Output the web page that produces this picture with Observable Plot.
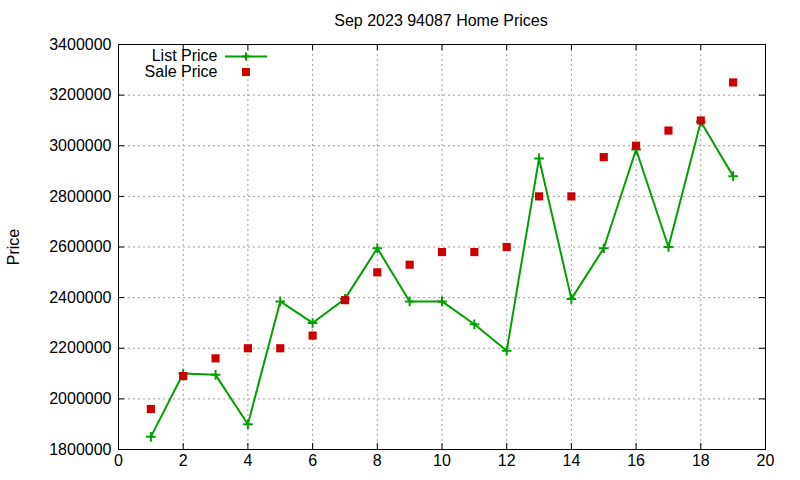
<!DOCTYPE html>
<html>
<head>
<meta charset="utf-8">
<script src="https://cdn.jsdelivr.net/npm/d3@7"></script>
<script src="https://cdn.jsdelivr.net/npm/@observablehq/plot@0.6"></script>
<style>
  html, body { margin: 0; padding: 0; background: #fff; }
  #chart { width: 800px; height: 480px; }
</style>
</head>
<body>
<div id="chart"></div>
<script>
const titleText = "Sep 2023 94087 Home Prices";
const yLabel = "Price";
const seriesNames = ["List Price", "Sale Price"];
const months = [1, 2, 3, 4, 5, 6, 7, 8, 9, 10, 11, 12, 13, 14, 15, 16, 17, 18, 19];
const listPrice = [1850000, 2100000, 2095000, 1900000, 2385000, 2300000, 2395000, 2595000, 2385000, 2385000, 2295000, 2190000, 2950000, 2395000, 2595000, 2985000, 2600000, 3095000, 2880000];
const salePrice = [1960000, 2090000, 2160000, 2200000, 2200000, 2250000, 2390000, 2500000, 2530000, 2580000, 2580000, 2600000, 2800000, 2800000, 2955000, 3000000, 3060000, 3100000, 3250000];
const xTicks = [0, 2, 4, 6, 8, 10, 12, 14, 16, 18, 20];
const yTicks = [1800000, 2000000, 2200000, 2400000, 2600000, 2800000, 3000000, 3200000, 3400000];

const listData = months.map((m, i) => ({x: m, y: listPrice[i]}));
const saleData = months.map((m, i) => ({x: m, y: salePrice[i]}));

const W = 800, H = 480;
const mL = 118, mR = 35, mT = 44, mB = 31;
const innerW = W - mL - mR, innerH = H - mT - mB;
const tk = 6;
const green = "#00a000", red = "#cc0000";

const svg = Plot.plot({
  width: W,
  height: H,
  marginLeft: mL,
  marginRight: mR,
  marginTop: mT,
  marginBottom: mB,
  style: {fontFamily: "'Liberation Sans', Arial, sans-serif", fontSize: "16px", color: "#000", background: "#fff"},
  x: {domain: [0, 20], label: null},
  y: {domain: [1800000, 3400000]},
  marks: [
    Plot.gridX(xTicks, {stroke: "#a0a0a0", strokeOpacity: 1, strokeDasharray: "2,3"}),
    Plot.gridY(yTicks, {stroke: "#a0a0a0", strokeOpacity: 1, strokeDasharray: "2,3"}),
    Plot.tickX(xTicks, {x: d => d, stroke: "#000", insetTop: innerH - tk}),
    Plot.tickX(xTicks, {x: d => d, stroke: "#000", insetBottom: innerH - tk}),
    Plot.tickY(yTicks, {y: d => d, stroke: "#000", insetRight: innerW - tk}),
    Plot.tickY(yTicks, {y: d => d, stroke: "#000", insetLeft: innerW - tk}),
    Plot.axisX(xTicks, {tickSize: 0, tickPadding: 5, tickFormat: d3.format("d"), fontSize: 16, label: null}),
    Plot.axisY(yTicks, {tickSize: 0, tickPadding: 7, tickFormat: d3.format("d"), fontSize: 16,
      label: yLabel, labelAnchor: "center", labelArrow: "none", labelOffset: 111}),
    Plot.frame({stroke: "#000", strokeWidth: 1}),
    Plot.line(listData, {x: "x", y: "y", stroke: green, strokeWidth: 2}),
    Plot.dot(listData, {x: "x", y: "y", symbol: "plus", stroke: green, strokeWidth: 2, r: 3.2}),
    Plot.dot(saleData, {x: "x", y: "y", symbol: "square", fill: red, stroke: "none", r: 4.6}),
    Plot.text([titleText], {frameAnchor: "top", dy: -30, fontSize: 16, fill: "#000", dx: -1}),
    Plot.text([seriesNames[0]], {frameAnchor: "top-left", dx: 99, dy: 5, textAnchor: "end", fontSize: 16, fill: "#000"}),
    Plot.text([seriesNames[1]], {frameAnchor: "top-left", dx: 99, dy: 21, textAnchor: "end", fontSize: 16, fill: "#000"})
  ]
});

// legend samples (decoration)
const g = d3.select(svg).append("g");
g.append("line").attr("x1", mL + 107).attr("x2", mL + 149).attr("y1", mT + 12.5).attr("y2", mT + 12.5)
  .attr("stroke", green).attr("stroke-width", 2);
g.append("path").attr("d", `M${mL + 128 - 4},${mT + 12.5}h8M${mL + 128},${mT + 8.5}v8`)
  .attr("stroke", green).attr("stroke-width", 2).attr("fill", "none");
g.append("rect").attr("x", mL + 128 - 4).attr("y", mT + 28 - 4).attr("width", 8).attr("height", 8).attr("fill", red);

document.getElementById("chart").appendChild(svg);
</script>
</body>
</html>
